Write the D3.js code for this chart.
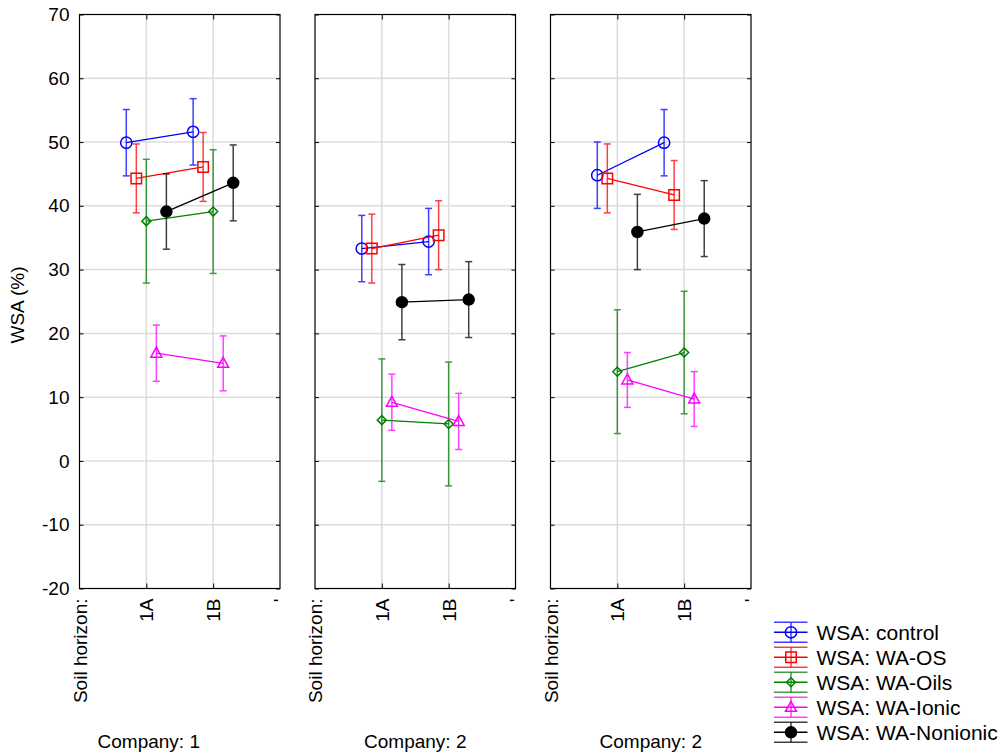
<!DOCTYPE html>
<html><head><meta charset="utf-8">
<script src="https://cdn.jsdelivr.net/npm/d3@7"></script>
<style>
body{margin:0;background:#fff}
text{font-family:"Liberation Sans",Arial,Helvetica,sans-serif;fill:#000}
</style>
</head><body>
<svg id="chart" width="1003" height="756"></svg>
<script>
// ---------------- DATA ----------------
const companies = ["Company: 1", "Company: 2", "Company: 2"];
const horizons = ["1A", "1B"];
const xTickLabels = ["Soil horizon:", "1A", "1B", "'"];
const yTicks = [-20, -10, 0, 10, 20, 30, 40, 50, 60, 70];
const seriesNames = ["WSA: control", "WSA: WA-OS", "WSA: WA-Oils", "WSA: WA-Ionic", "WSA: WA-Nonionic"];

// means per panel, [1A, 1B]
const controlMean  = [[49.9, 51.6], [33.3, 34.4], [44.8, 49.9]];
const osMean       = [[44.3, 46.1], [33.3, 35.4], [44.3, 41.7]];
const oilsMean     = [[37.6, 39.1], [6.4, 5.8],   [14.0, 17.0]];
const ionicMean    = [[16.9, 15.3], [9.2, 6.2],   [12.7, 9.7]];
const nonionicMean = [[39.1, 43.6], [24.9, 25.3], [35.9, 38.0]];
// confidence half-widths per panel, [1A, 1B]
const controlErr  = [[5.2, 5.2], [5.2, 5.2], [5.2, 5.2]];
const osErr       = [[5.4, 5.4], [5.4, 5.4], [5.4, 5.4]];
const oilsErr     = [[9.7, 9.7], [9.6, 9.7], [9.7, 9.6]];
const ionicErr    = [[4.4, 4.3], [4.4, 4.4], [4.3, 4.3]];
const nonionicErr = [[5.9, 5.95], [5.9, 5.95], [5.9, 5.95]];

const seriesColors = ["#0000ff", "#ff0000", "#008000", "#ff00ff", "#000000"];
const seriesMarkers = ["circle", "square", "diamond", "triangle", "dot"];
const seriesOffsets = [-0.3, -0.15, 0, 0.15, 0.3];

const series = seriesNames.map((name, i) => ({
  name, color: seriesColors[i], marker: seriesMarkers[i], offset: seriesOffsets[i],
  mean: [controlMean, osMean, oilsMean, ionicMean, nonionicMean][i],
  err: [controlErr, osErr, oilsErr, ionicErr, nonionicErr][i]
}));

// ---------------- LAYOUT ----------------
const svg = d3.select("#chart");
const yTop = 14.5, yBottom = 588.5, panelW = 200.5;
const panelLeft = d3.scaleLinear().domain([0, 1]).range([79.5, 315]);
const y = d3.scaleLinear().domain([-20, 70]).range([yBottom, yTop]);
const x = d3.scaleLinear().domain([0, 3]).range([0, panelW]);
const FS = 19;

function markerPath(type) {
  switch (type) {
    case "circle": return d3.symbol(d3.symbolCircle, 100)();
    case "square": return d3.symbol(d3.symbolSquare, 110)();
    case "diamond": return "M0,-4.5L4.5,0L0,4.5L-4.5,0Z";
    case "triangle": return "M0,-6L5.5,4L-5.5,4Z";
    case "dot": return d3.symbol(d3.symbolCircle, 95)();
  }
}
function drawMarker(g, type, color, cx, cy) {
  g.append("path").attr("d", markerPath(type))
    .attr("transform", `translate(${cx},${cy})`)
    .attr("fill", type === "dot" ? color : "none")
    .attr("stroke", color).attr("stroke-width", 1.5);
}

companies.forEach((comp, p) => {
  const g = svg.append("g").attr("transform", `translate(${panelLeft(p)},0)`);
  // gridlines
  g.selectAll(".hg").data(yTicks.slice(1, -1)).enter().append("line")
    .attr("x1", 0).attr("x2", panelW).attr("y1", d => y(d)).attr("y2", d => y(d))
    .attr("stroke", "#dcdcdc").attr("stroke-width", 1.5);
  g.selectAll(".vg").data([1, 2]).enter().append("line")
    .attr("x1", d => x(d)).attr("x2", d => x(d)).attr("y1", yTop).attr("y2", yBottom)
    .attr("stroke", "#dcdcdc").attr("stroke-width", 1.5);
  // inward ticks
  const tl = g.append("g").call(d3.axisLeft(y).tickValues(yTicks).tickSize(-4).tickFormat(""));
  const tr = g.append("g").attr("transform", `translate(${panelW},0)`)
    .call(d3.axisRight(y).tickValues(yTicks).tickSize(-4).tickFormat(""));
  const tb = g.append("g").attr("transform", `translate(0,${yBottom})`)
    .call(d3.axisBottom(x).tickValues([1, 2]).tickSize(-5).tickFormat(""));
  const tt = g.append("g").attr("transform", `translate(0,${yTop})`)
    .call(d3.axisTop(x).tickValues([1, 2]).tickSize(-5).tickFormat(""));
  [tl, tr, tb, tt].forEach(a => { a.select(".domain").remove(); a.selectAll("line").attr("stroke", "#000"); });
  // frame
  g.append("rect").attr("x", 0).attr("y", yTop).attr("width", panelW).attr("height", yBottom - yTop)
    .attr("fill", "none").attr("stroke", "#000").attr("stroke-width", 1.2);

  // y labels only on first panel
  if (p === 0) {
    const ya = g.append("g").call(d3.axisLeft(y).tickValues(yTicks).tickSize(0).tickPadding(10)
      .tickFormat(d => String(d)));
    ya.select(".domain").remove();
    ya.selectAll("text").style("font-size", FS + "px").style("font-family", "Liberation Sans, Arial, sans-serif");
  }
  // x labels rotated
  const xa = g.append("g").attr("transform", `translate(0,${yBottom})`)
    .call(d3.axisBottom(x).tickValues([0, 1, 2, 3]).tickFormat(i => xTickLabels[i]).tickSize(0));
  xa.select(".domain").remove();
  xa.selectAll("text").attr("y", 0).attr("x", -10).attr("dy", "0.35em")
    .attr("transform", "rotate(-90)").style("text-anchor", "end")
    .style("font-size", FS + "px").style("font-family", "Liberation Sans, Arial, sans-serif");

  // company label
  const cx = panelLeft(p) + panelW / 2 - (p === 0 ? 31 : 0);
  svg.append("text").attr("x", cx).attr("y", 748).attr("text-anchor", "middle")
    .style("font-size", FS + "px").text(comp);

  // series
  series.forEach(s => {
    const pts = horizons.map((h, k) => ({
      xv: x(k + 1 + s.offset), m: s.mean[p][k], e: s.err[p][k]
    }));
    pts.forEach(d => {
      const eg = g.append("g").attr("stroke", s.color).attr("stroke-width", 1.5).attr("opacity", 0.75);
      eg.append("line").attr("x1", d.xv).attr("x2", d.xv).attr("y1", y(d.m - d.e)).attr("y2", y(d.m + d.e));
      [d.m - d.e, d.m + d.e].forEach(v => eg.append("line")
        .attr("x1", d.xv - 3.5).attr("x2", d.xv + 3.5).attr("y1", y(v)).attr("y2", y(v)));
    });
    g.append("path").datum(pts)
      .attr("d", d3.line().x(d => d.xv).y(d => y(d.m)))
      .attr("fill", "none").attr("stroke", s.color).attr("stroke-width", 1.3);
    pts.forEach(d => drawMarker(g, s.marker, s.color, d.xv, y(d.m)));
  });
});

// y title
svg.append("text").attr("transform", "translate(23.5,305) rotate(-90)")
  .attr("text-anchor", "middle").style("font-size", FS + "px").text("WSA (%)");

// legend
const legY = d3.scaleLinear().domain([0, 4]).range([632.3, 732.3]);
series.forEach((s, i) => {
  const cy = legY(i);
  const lg = svg.append("g");
  [-10, 0, 10].forEach(dy => lg.append("line").attr("x1", 774).attr("x2", 807.5)
    .attr("y1", cy + dy).attr("y2", cy + dy).attr("stroke", s.color)
    .attr("stroke-width", 1.5).attr("opacity", dy === 0 ? 1 : 0.75));
  lg.append("line").attr("x1", 791).attr("x2", 791).attr("y1", cy - 10).attr("y2", cy + 10)
    .attr("stroke", s.color).attr("stroke-width", 1.5).attr("opacity", 0.75);
  drawMarker(lg, s.marker, s.color, 791, cy);
  lg.append("text").attr("x", 816.5).attr("y", cy + 7.5).style("font-size", "21px").text(s.name);
});
</script>
</body></html>
